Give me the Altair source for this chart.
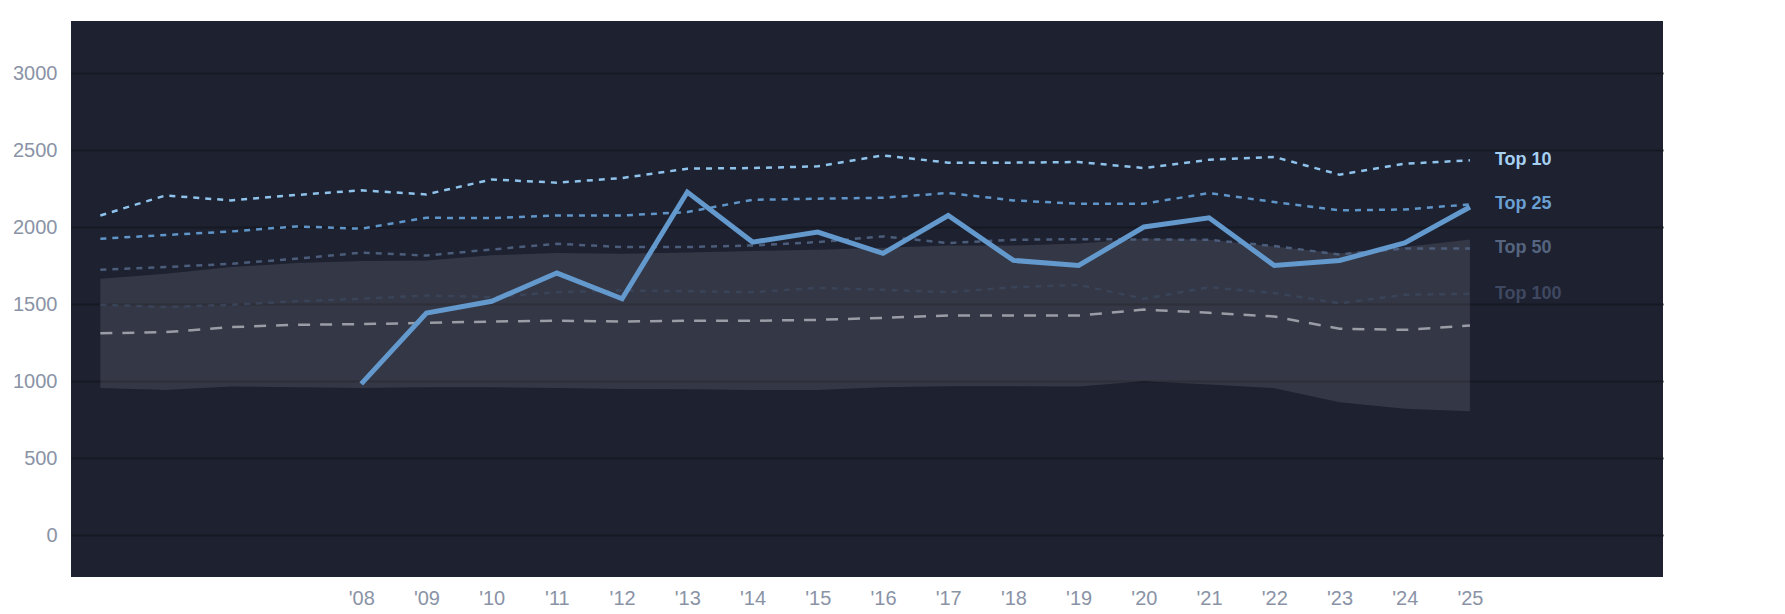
import altair as alt
import pandas as pd

years = list(range(2004, 2026))
top10 = [2077, 2207, 2175, 2210, 2240, 2214, 2311, 2290, 2320, 2381, 2385, 2396, 2467, 2420, 2420, 2424, 2385, 2439, 2457, 2342, 2413, 2435]
top25 = [1926, 1950, 1973, 2006, 1991, 2062, 2060, 2077, 2077, 2099, 2179, 2186, 2192, 2223, 2175, 2153, 2153, 2223, 2164, 2110, 2116, 2149]
top50 = [1724, 1742, 1763, 1796, 1835, 1817, 1856, 1893, 1872, 1872, 1882, 1904, 1941, 1898, 1919, 1923, 1921, 1919, 1878, 1824, 1863, 1863]
top100 = [1497, 1482, 1497, 1520, 1536, 1557, 1547, 1579, 1590, 1585, 1579, 1607, 1594, 1579, 1611, 1626, 1536, 1611, 1573, 1507, 1562, 1568]
median = [1312, 1319, 1352, 1367, 1371, 1380, 1388, 1393, 1388, 1393, 1393, 1399, 1412, 1427, 1427, 1427, 1466, 1445, 1421, 1341, 1334, 1362]
band_hi = [1666, 1698, 1742, 1768, 1781, 1785, 1818, 1833, 1828, 1837, 1846, 1854, 1867, 1882, 1882, 1895, 1928, 1920, 1875, 1830, 1873, 1921]
band_lo = [957, 944, 966, 961, 957, 961, 961, 957, 950, 948, 944, 944, 961, 968, 968, 966, 1000, 979, 955, 864, 821, 805]

team_years = list(range(2008, 2026))
team = [983, 1443, 1520, 1703, 1536, 2229, 1904, 1969, 1831, 2077, 1785, 1752, 2002, 2062, 1752, 1785, 1898, 2132]

x_ticks = list(range(2008, 2026))
y_ticks = [0, 500, 1000, 1500, 2000, 2500, 3000]

series_names = ["Top 10", "Top 25", "Top 50", "Top 100"]
series_vals = [top10, top25, top50, top100]
series_colors = ["#8fc3ec", "#5f95c8", "#4c5d7b", "#3a4459"]
label_colors = ["#a6d0f2", "#6a9fd2", "#56657f", "#3f4860"]

FONT = "Liberation Sans"
xscale = alt.Scale(domain=[2003.55, 2027.96], nice=False, zero=False)
yscale = alt.Scale(domain=[-271, 3340], nice=False, zero=False)

xaxis = alt.Axis(values=x_ticks, labelExpr="\"'\" + slice(toString(datum.value), 2)",
                 grid=False, ticks=False, domain=False, labelFontSize=20,
                 labelColor="#8a93a6", labelPadding=11, title=None, labelFont=FONT)
yaxis = alt.Axis(values=y_ticks, format="d", grid=True, gridColor="#161922", gridWidth=2,
                 ticks=False, domain=False, labelFontSize=20, labelColor="#8a93a6",
                 labelPadding=14, title=None, labelFont=FONT)

base_df = pd.DataFrame({"year": years, "hi": band_hi, "lo": band_lo, "median": median})

band = alt.Chart(base_df).mark_area(color="#ffffff", opacity=0.1).encode(
    x=alt.X("year:Q", scale=xscale, axis=xaxis),
    y=alt.Y("hi:Q", scale=yscale, axis=yaxis),
    y2="lo:Q",
)

med = alt.Chart(base_df).mark_line(color="#9a9da5", strokeWidth=2.5, strokeDash=[12, 10]).encode(
    x=alt.X("year:Q", scale=xscale),
    y=alt.Y("median:Q", scale=yscale),
)

layers = [band, med]
for name, vals, col in reversed(list(zip(series_names, series_vals, series_colors))):
    df = pd.DataFrame({"year": years, "v": vals})
    layers.append(
        alt.Chart(df).mark_line(color=col, strokeWidth=2.5, strokeDash=[6, 6]).encode(
            x=alt.X("year:Q", scale=xscale),
            y=alt.Y("v:Q", scale=yscale),
        )
    )

team_df = pd.DataFrame({"year": team_years, "v": team})
layers.append(
    alt.Chart(team_df).mark_line(color="#6399cd", strokeWidth=5, strokeJoin="miter").encode(
        x=alt.X("year:Q", scale=xscale),
        y=alt.Y("v:Q", scale=yscale),
    )
)

label_df = pd.DataFrame({
    "year": [years[-1]] * 4,
    "v": [s[-1] for s in series_vals],
    "name": series_names,
})
labels = alt.Chart(label_df).mark_text(align="left", baseline="middle", dx=25,
                                       fontSize=18, fontWeight="bold", font=FONT).encode(
    x=alt.X("year:Q", scale=xscale),
    y=alt.Y("v:Q", scale=yscale),
    text="name:N",
    color=alt.Color("name:N", scale=alt.Scale(domain=series_names, range=label_colors), legend=None),
)
layers.append(labels)

chart = alt.layer(*layers).properties(
    width=1592, height=556,
    autosize=alt.AutoSizeParams(type="none"),
    padding={"left": 63, "top": 13, "right": 100, "bottom": 34},
    background="#ffffff",
).configure_view(fill="#1d2130", strokeWidth=0)

chart.save("out.html", embed_options={"renderer": "svg", "actions": False})
